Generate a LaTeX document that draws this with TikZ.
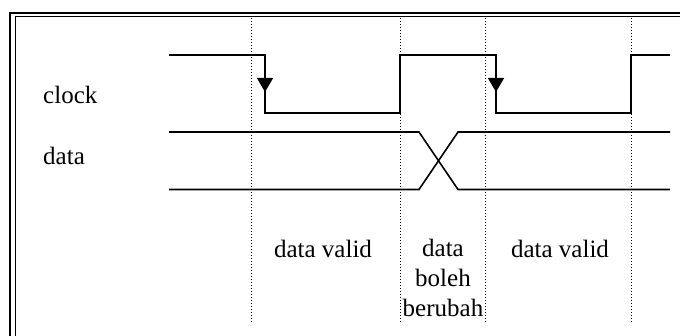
\documentclass[tikz,border=0pt]{standalone}
\usepackage{fontspec}
\setmainfont{Liberation Serif}
\usetikzlibrary{positioning,arrows.meta}

\begin{document}
\begin{tikzpicture}
[
x=1pt, y=-1pt,
frame-a/.style={line width=2pt},
frame-b/.style={line width=1.2pt},
sig-a/.style={line width=1.6pt, line join=miter},
edge-a/.style={line width=1.6pt, -{Triangle[width=16pt,length=14pt]}},
grid-a/.style={line width=1pt, dash pattern=on 1pt off 2pt},
text-a/.style={black, font=\fontsize{25}{30}\selectfont, inner sep=0pt}
]

\useasboundingbox (0,0) rectangle (680,336);
\clip (0,0) rectangle (680,336);

% frame
\draw [frame-a] (10.3,13.3) rectangle (700,360);
\draw [frame-b] (15.8,16.3) rectangle (694,354);

% dotted time marks
\foreach \t in {251,400,485,631}
  \draw [grid-a] (\t,18) -- (\t,322);

% clock
\draw [sig-a] (169,55) -- (265,55) -- (265,113) -- (400,113) -- (400,55)
              -- (496,55) -- (496,113) -- (631,113) -- (631,55) -- (670,55);
\draw [edge-a] (265,55) -- (265,92);
\draw [edge-a] (496,55) -- (496,92);

% data
\draw [sig-a] (169,132) -- (419,132) -- (458,189.5) -- (670,189.5);
\draw [sig-a] (169,189.5) -- (419,189.5) -- (458,132) -- (670,132);

% labels
\node (clock-lb)  [text-a, anchor=base west] at (43,104)  {clock};
\node (data-lb)   [text-a, anchor=base west] at (43,165)  {data};
\node (valid-1)   [text-a, anchor=base]      at (323,258) {data valid};
\node (change-lb) [text-a, anchor=base, align=center] at (443,317) {data\\boleh\\berubah};
\node (valid-2)   [text-a, anchor=base]      at (560,258) {data valid};

\end{tikzpicture}
\end{document}
